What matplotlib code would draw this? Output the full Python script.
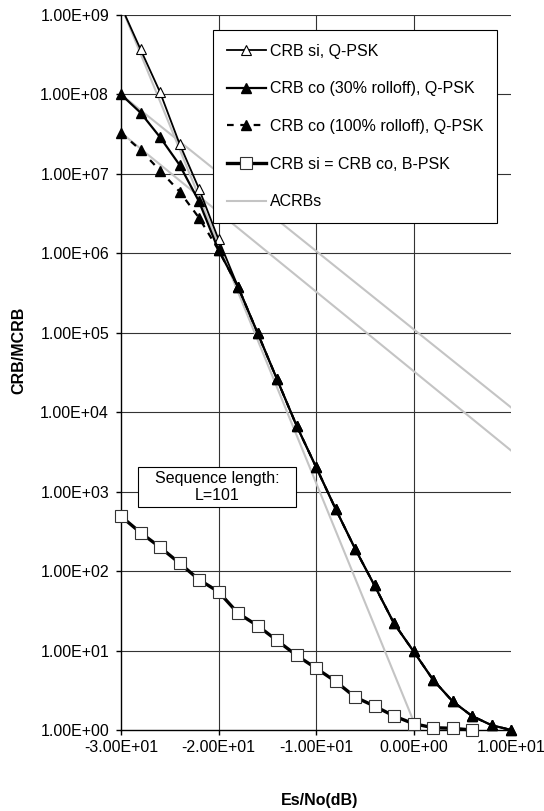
import numpy as np
import matplotlib
matplotlib.use('Agg')
import matplotlib.pyplot as plt
from matplotlib.ticker import FuncFormatter, FixedLocator, NullLocator
from matplotlib.patches import Rectangle

plt.rcParams['font.family'] = ['Liberation Sans', 'DejaVu Sans']

# Es/No in dB
snr_db = [-30, -28, -26, -24, -22, -20, -18, -16, -14, -12, -10,
          -8, -6, -4, -2, 0, 2, 4, 6, 8, 10]

# CRB si, Q-PSK (open triangles)
crb_si_qpsk = [1.3e9, 3.7e8, 1.07e8, 2.4e7, 6.5e6, 1.5e6, 3.8e5, 1.0e5, 2.6e4,
               6.8e3, 2.05e3, 610, 192, 66, 22, 9.8, 4.3, 2.3, 1.5, 1.15, 1.0]
# CRB co, 30% rolloff, Q-PSK
crb_co30_qpsk = [1.0e8, 5.9e7, 2.9e7, 1.3e7, 4.5e6, 1.1e6, 3.8e5, 1.0e5, 2.6e4,
                 6.8e3, 2.05e3, 610, 192, 66, 22, 9.8, 4.3, 2.3, 1.5, 1.15, 1.0]
# CRB co, 100% rolloff, Q-PSK
crb_co100_qpsk = [3.3e7, 2.0e7, 1.1e7, 6.0e6, 2.8e6, 1.1e6, 3.8e5, 1.0e5, 2.6e4,
                  6.8e3, 2.05e3, 610, 192, 66, 22, 9.8, 4.3, 2.3, 1.5, 1.15, 1.0]

# CRB si = CRB co, B-PSK
bpsk_db = [-30, -28, -26, -24, -22, -20, -18, -16, -14, -12, -10,
           -8, -6, -4, -2, 0, 2, 4, 6]
crb_bpsk = [490, 305, 200, 126, 78, 55, 29.5, 20.6, 13.4, 8.7, 6.0,
            4.1, 2.6, 2.0, 1.5, 1.2, 1.07, 1.05, 1.0]

# asymptotic CRBs (straight lines in log scale)
acrb_x = [-30, 10]
acrb_hi = [1.0e8, 1.15e4]
acrb_lo = [3.3e7, 3.3e3]
acrb_steep_x = [-30, 1]
acrb_steep = [1.3e9, 0.65]

x_ticks = [-30, -20, -10, 0, 10]
y_ticks = [1e0, 1e1, 1e2, 1e3, 1e4, 1e5, 1e6, 1e7, 1e8, 1e9]

FS = 11.5

fig = plt.figure(figsize=(5.44, 8.11), dpi=100)
ax = fig.add_axes([121 / 544, 1 - 730 / 811, 390 / 544, 715 / 811])

ax.set_yscale('log')
ax.set_xlim(-30, 10)
ax.set_ylim(1, 1e9)

# grid
for y in y_ticks[1:]:
    ax.axhline(y, color='#333333', lw=0.8, zorder=0)
for x in x_ticks[1:-1]:
    ax.axvline(x, color='#333333', lw=0.8, zorder=0)

gray = '#c4c4c4'
ax.plot(acrb_x, acrb_hi, color=gray, lw=1.5, zorder=1)
ax.plot(acrb_x, acrb_lo, color=gray, lw=1.5, zorder=1)
ax.plot(acrb_steep_x, acrb_steep, color=gray, lw=1.5, zorder=1)

l_si, = ax.plot(snr_db, crb_si_qpsk, color='black', lw=1.3, marker='^',
                ms=6.5, mfc='white', mec='black', mew=0.8, zorder=2)
l_co30, = ax.plot(snr_db, crb_co30_qpsk, color='black', lw=1.6, marker='^',
                  ms=6.5, mfc='black', mec='black', zorder=3, clip_on=False)
l_co100, = ax.plot(snr_db, crb_co100_qpsk, color='black', lw=1.6,
                   ls=(0, (3, 3)), marker='^', ms=6.5, mfc='black',
                   mec='black', zorder=4, clip_on=False)
l_bpsk, = ax.plot(bpsk_db, crb_bpsk, color='black', lw=2.4, marker='s',
                  ms=8, mfc='white', mec='#333333', mew=0.8, zorder=5,
                  clip_on=False)
l_acrb, = ax.plot([], [], color=gray, lw=1.5)

# axes look
ax.spines['top'].set_visible(False)
ax.spines['right'].set_visible(False)
ax.spines['left'].set_linewidth(1.0)
ax.spines['bottom'].set_linewidth(1.0)
ax.xaxis.set_major_locator(FixedLocator(x_ticks))
ax.yaxis.set_major_locator(FixedLocator(y_ticks))
ax.yaxis.set_minor_locator(NullLocator())
fmt = FuncFormatter(lambda v, p: '%.2E' % v)
ax.xaxis.set_major_formatter(fmt)
ax.yaxis.set_major_formatter(fmt)
ax.tick_params(direction='out', length=3.6, width=1.0, labelsize=FS)
ax.tick_params(axis='x', pad=3.5)
ax.tick_params(axis='y', pad=5)

ax.set_xlabel('Es/No(dB)', fontsize=FS, fontweight='bold')
ax.set_ylabel('CRB/MCRB', fontsize=FS, fontweight='bold')
ax.xaxis.label.set_va('center')
ax.yaxis.label.set_va('center')
ax.yaxis.label.set_ha('center')
ax.xaxis.set_label_coords(0.51, (730 - 800) / 715)
ax.yaxis.set_label_coords((19 - 121) / 390, (730 - 350) / 715)

leg = ax.legend([l_si, l_co30, l_co100, l_bpsk, l_acrb],
                ['CRB si, Q-PSK', 'CRB co (30% rolloff), Q-PSK',
                 'CRB co (100% rolloff), Q-PSK', 'CRB si = CRB co, B-PSK',
                 'ACRBs'],
                loc='upper left', bbox_to_anchor=(0.236, 0.979),
                borderaxespad=0, fontsize=FS, numpoints=1,
                handlelength=2.45, handletextpad=0.25, labelspacing=1.42,
                borderpad=0.85, fancybox=False, framealpha=1,
                edgecolor='black')
leg.get_frame().set_linewidth(0.8)

# text box
ax.add_patch(Rectangle((0.0436, 0.312), 0.405, 0.056, transform=ax.transAxes,
                       facecolor='white', edgecolor='black', lw=0.8,
                       zorder=6))
ax.text(0.246, 0.340, 'Sequence length:\nL=101', transform=ax.transAxes,
        ha='center', va='center', fontsize=FS, zorder=7, linespacing=1.1)

fig.savefig('out.png', dpi=100)
